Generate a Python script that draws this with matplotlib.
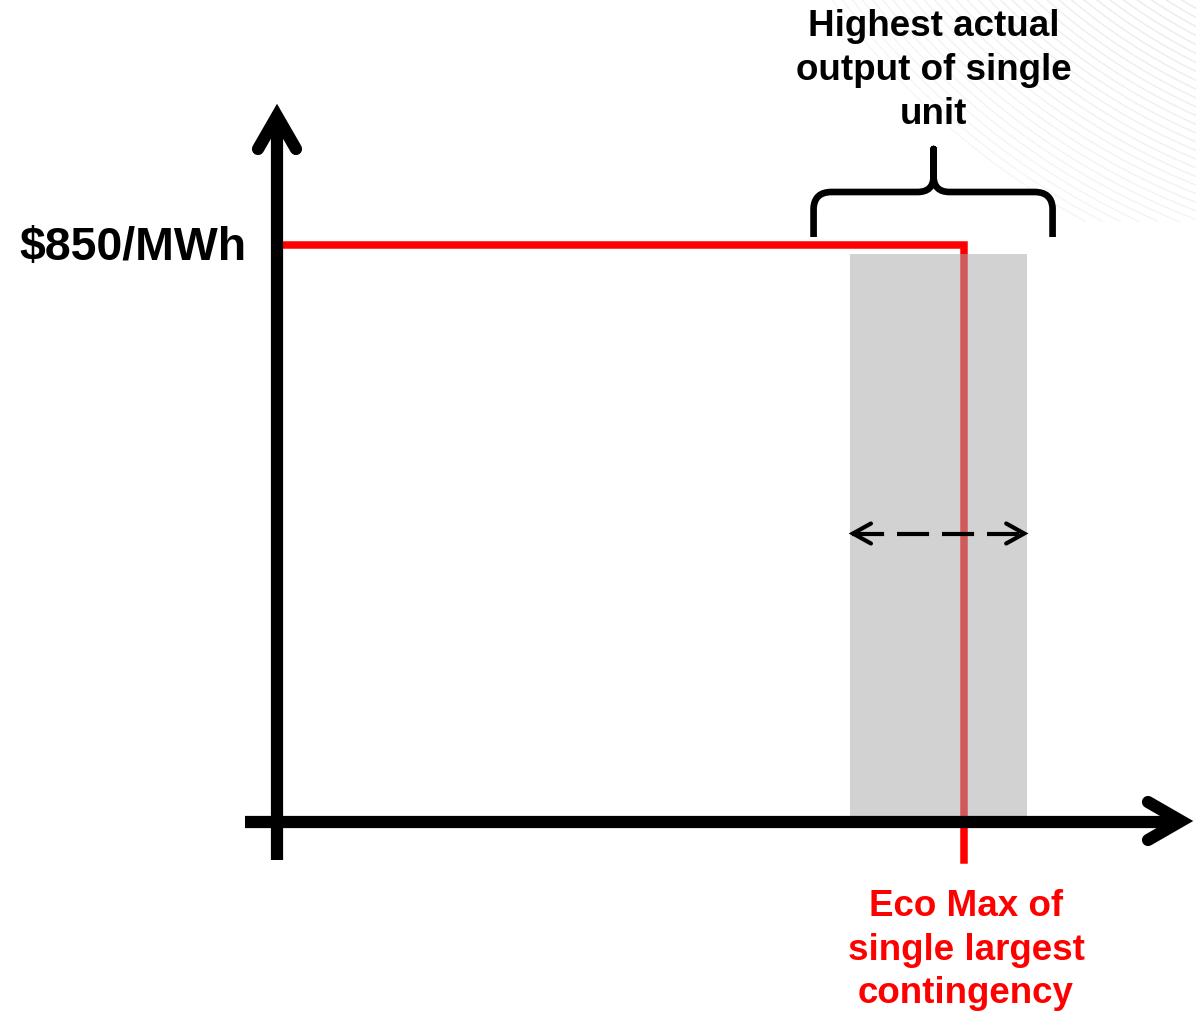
import numpy as np
import matplotlib
matplotlib.use("Agg")
import matplotlib.pyplot as plt
from matplotlib.patches import Rectangle, PathPatch
from matplotlib.path import Path
from matplotlib.transforms import IdentityTransform

# ---- values shown on the diagram ----
price_cap = 850            # $/MWh offer cap
eco_max = 100.0            # Eco Max of single largest contingency (output units)
band_lo, band_hi = 83.4, 109.2   # range of highest actual output of single unit
price_label = "$850/MWh"
band_lines = ["Highest actual", "output of single", "unit"]
eco_lines = ["Eco Max of", "single largest", "contingency"]

W, H = 1196, 1015
fig = plt.figure(figsize=(W / 100, H / 100), dpi=100)
ax = fig.add_axes([0, 0, 1, 1])

# origin of the diagram sits at pixel (277, 822); price cap at pixel row 245
ox, oy = 277, 822
sx = 6.87                      # pixels per output unit
sy = (oy - 245) / price_cap    # pixels per $/MWh
ax.set_xlim(-ox / sx, (W - ox) / sx)
ax.set_ylim(-(H - oy) / sy, oy / sy)
ax.axis("off")

FONT = "Liberation Sans"
ident = IdentityTransform()


def pix(x, y):
    """image pixel (y down) -> display coords"""
    return x, H - np.asarray(y)


def to_pix(u, v):
    d = ax.transData.transform((u, v))
    return d[0], H - d[1]


# faint decorative arcs in the top-right corner
cx, cy = 1450, -450
radii = np.arange(500, 770, 8)
for i, r in enumerate(radii):
    t = np.linspace(0.0, np.pi / 2, 800)
    xs = cx - r * np.cos(t)
    ys = cy + r * np.sin(t)
    mask = (ys > -5) & (ys < 222) & (xs > 800)
    if not mask.any():
        continue
    xd, yd = pix(xs[mask], ys[mask])
    ax.plot(xd, yd, color="#e8e8e8", lw=1.0, transform=ident, zorder=0,
            alpha=0.95 - 0.55 * i / len(radii), solid_capstyle="butt")

# red offer curve: flat at the price cap up to Eco Max, then vertical
drop = -(860 - oy) / sy
ax.plot([0, eco_max, eco_max], [price_cap, price_cap, drop],
        color="#ff0000", lw=5.4, solid_joinstyle="miter", zorder=2)

# grey band of highest actual output
gap_bot, gap_top = 6 / sy, 9 / sy
ax.add_patch(Rectangle((band_lo, gap_bot), band_hi - band_lo,
                       price_cap - gap_top - gap_bot,
                       facecolor=(171 / 255,) * 3, alpha=0.525,
                       edgecolor="none", zorder=3))

# axes with open chevron heads
axis_lw = 8.8
ax.plot([0, 0], [-(860 - oy) / sy, (oy - 118) / sy], color="black",
        lw=axis_lw, solid_capstyle="butt", zorder=4)
ax.plot([-(ox - 245) / sx, (1180 - ox) / sx], [0, 0], color="black",
        lw=axis_lw, solid_capstyle="butt", zorder=4)


def chevron(tip, a1, a2, lw, z=5):
    xs, ys = zip(*[pix(*a1), pix(*tip), pix(*a2)])
    ax.plot(xs, ys, color="black", lw=lw, transform=ident,
            solid_capstyle="round", solid_joinstyle="miter", zorder=z)


chevron((277, 116), (258, 149), (296, 149), axis_lw)
chevron((1181, 821), (1148, 802), (1148, 840), axis_lw)

# dashed double arrow across the band
ya = price_cap / 2
lx, ly = to_pix(band_lo, ya)
rx, ry = to_pix(band_hi, ya)
ax.plot([band_lo + 0.3, band_hi - 0.3], [ya, ya], color="black", lw=3.0,
        dashes=(7.7, 3.1), dash_capstyle="butt", zorder=5)
chevron((lx + 3, ly), (lx + 21, ly - 10), (lx + 21, ly + 10), 3.0)
chevron((rx - 3, ry), (rx - 21, ry - 10), (rx - 21, ry + 10), 3.0)

# curly brace over the band
bc, _ = to_pix((band_lo + band_hi) / 2, 0)
bc -= 5
bl, br = bc - 120, bc + 119
yb, yh, yt = 237, 192, 149
verts = [
    (bl, yb), (bl, yh + 16), (bl + 1, yh), (bl + 18, yh),
    (bc - 16, yh), (bc, yh), (bc, yh - 16), (bc, yt),
    (bc, yh - 16), (bc, yh), (bc + 16, yh),
    (br - 18, yh), (br - 1, yh), (br, yh + 16), (br, yb),
]
codes = [Path.MOVETO, Path.LINETO, Path.CURVE3, Path.CURVE3,
         Path.LINETO, Path.CURVE3, Path.CURVE3, Path.LINETO,
         Path.LINETO, Path.CURVE3, Path.CURVE3,
         Path.LINETO, Path.CURVE3, Path.CURVE3, Path.LINETO]
brace = Path([pix(*v) for v in verts], codes)
ax.add_patch(PathPatch(brace, facecolor="none", edgecolor="black", lw=4.8,
                       capstyle="butt", joinstyle="round", transform=ident,
                       zorder=5))

# labels, one line at a time on fixed baselines
for k, line in enumerate(band_lines):
    tx, ty = pix(bc, 36.5 + 44 * k)
    ax.text(tx, ty, line, transform=ident, ha="center", va="baseline",
            fontsize=26.5, fontweight="bold", family=FONT, color="black")

ex, _ = to_pix(eco_max, 0)
for k, line in enumerate(eco_lines):
    tx, ty = pix(ex + 2, 916 + 43.5 * k)
    ax.text(tx, ty, line, transform=ident, ha="center", va="baseline",
            fontsize=26.5, fontweight="bold", family=FONT, color="#ff0000")

_, py = to_pix(0, price_cap)
tx, ty = pix(247, 260)
ax.text(tx, ty, price_label, transform=ident, ha="right", va="baseline",
        fontsize=33.5, fontweight="bold", family=FONT, color="black")

fig.savefig("out.png", dpi=100, facecolor="white")
